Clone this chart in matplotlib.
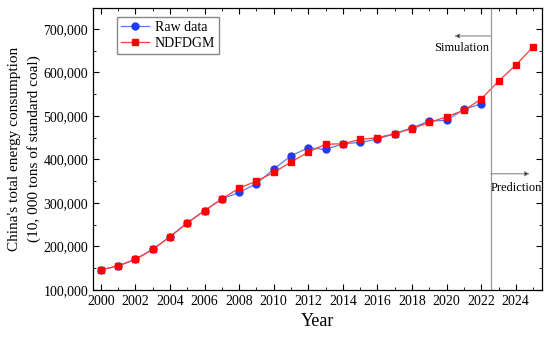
import numpy as np
import matplotlib
matplotlib.use('Agg')
import matplotlib.pyplot as plt
from matplotlib.ticker import MultipleLocator, FuncFormatter

plt.rcParams['font.family'] = ['Liberation Serif', 'DejaVu Serif']

# Data
raw_years = list(range(2000, 2023))
raw_data = [146000, 155000, 170000, 193000, 222000, 254000, 282000, 309000,
            324000, 344000, 378000, 408000, 427000, 423000, 436000, 439000,
            447000, 459000, 473000, 488000, 490000, 515000, 528000]

model_years = list(range(2000, 2026))
ndfdgm = [146000, 155000, 170000, 193000, 222000, 254000, 282000, 309000,
          334000, 350000, 370000, 394000, 417000, 435000, 436000, 446000,
          450000, 459000, 471000, 485000, 498000, 513000, 539000, 580000,
          617000, 659000]

split_year = 2022.55

fig = plt.figure(figsize=(5.5, 3.39), dpi=100)
ax = fig.add_axes([0.169, 0.145, 0.816, 0.831])

ax.plot(raw_years, raw_data, color='#5b7be8', lw=0.9, marker='o', ms=5,
        mfc='#1f3cf0', mec='#1f3cf0', label='Raw data')
ax.plot(model_years, ndfdgm, color='#ff3b3b', lw=0.9, marker='s', ms=4.5,
        mfc='#ff0000', mec='#ff0000', label='NDFDGM')

ax.axvline(split_year, color='#999999', lw=0.9)

# Simulation / Prediction arrows
ax.annotate('', xy=(2020.45, 684000), xytext=(split_year, 684000),
            arrowprops=dict(arrowstyle='-|>', color='#888888', lw=0.8,
                            mutation_scale=7, shrinkA=0, shrinkB=0,
                            fc='black'))
ax.text(split_year - 0.08, 656000, 'Simulation', ha='right', va='center', fontsize=9)
ax.annotate('', xy=(2024.8, 367000), xytext=(split_year, 367000),
            arrowprops=dict(arrowstyle='-|>', color='#888888', lw=0.8,
                            mutation_scale=7, shrinkA=0, shrinkB=0,
                            fc='black'))
ax.text(split_year + 0.02, 335000, 'Prediction', ha='left', va='center', fontsize=9)

ax.set_xlim(1999.55, 2025.5)
ax.set_ylim(100000, 748000)
ax.xaxis.set_major_locator(MultipleLocator(2))
ax.xaxis.set_minor_locator(MultipleLocator(1))
ax.yaxis.set_major_locator(MultipleLocator(100000))
ax.yaxis.set_minor_locator(MultipleLocator(50000))
ax.yaxis.set_major_formatter(FuncFormatter(lambda v, p: f'{int(v):,}'))
ax.tick_params(which='both', direction='in', top=True, right=True, labelsize=10)
ax.tick_params(which='major', length=4)
ax.tick_params(which='minor', length=2)
for s in ax.spines.values():
    s.set_linewidth(0.9)

ax.set_xlabel('Year', fontsize=13)
ax.set_ylabel("China's total energy consumption\n(10, 000 tons of standard coal)",
              fontsize=11, linespacing=1.5, labelpad=2)

ax.legend(loc='upper left', bbox_to_anchor=(0.045, 0.985), fontsize=10, fancybox=False,
          edgecolor='#888888', framealpha=1, handlelength=2.0, handletextpad=0.4,
          borderpad=0.3, labelspacing=0.25, borderaxespad=0.3)

fig.savefig('out.png', dpi=100)
